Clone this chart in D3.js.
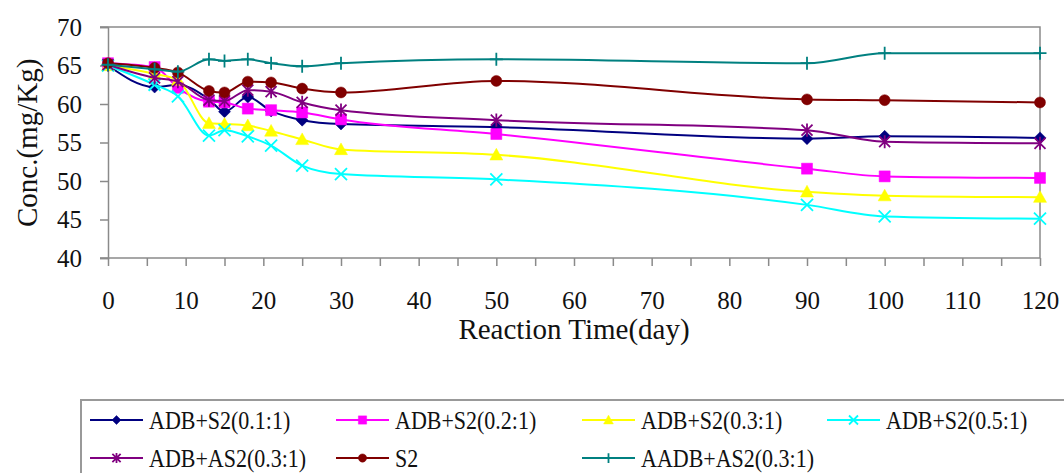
<!DOCTYPE html>
<html>
<head>
<meta charset="utf-8">
<script src="https://cdn.jsdelivr.net/npm/d3@7"></script>
<style>
  body { margin: 0; background: #fff; }
  text { font-family: "Liberation Serif", "Times New Roman", serif; fill: #111; }
</style>
</head>
<body>
<div id="chart"></div>
<script>
// sampling days (x) and the concentration of each run (mg/Kg)
var days = [0, 6, 9, 13, 15, 18, 21, 25, 30, 50, 90, 100, 120];
var adbS2_01  = [65.0, 62.2, 62.5, 60.6, 59.0, 60.9, 59.1, 57.9, 57.4, 57.0, 55.5, 55.8, 55.6];
var adbS2_02  = [65.3, 64.8, 62.1, 60.3, 60.2, 59.4, 59.2, 58.9, 58.0, 56.1, 51.6, 50.6, 50.4];
var adbS2_03  = [65.0, 63.9, 63.1, 57.5, 57.4, 57.2, 56.5, 55.4, 54.1, 53.4, 48.6, 48.1, 47.9];
var adbS2_05  = [65.0, 62.5, 61.0, 55.9, 56.6, 55.8, 54.6, 52.0, 50.9, 50.2, 46.9, 45.4, 45.1];
var adbAS2_03 = [65.1, 63.4, 62.9, 60.5, 60.4, 61.8, 61.6, 60.2, 59.2, 57.9, 56.6, 55.1, 54.9];
var s2        = [65.3, 64.7, 64.1, 61.7, 61.5, 62.9, 62.8, 62.0, 61.5, 63.0, 60.6, 60.5, 60.2];
var aadbAS2   = [65.1, 64.5, 64.2, 65.8, 65.6, 65.8, 65.3, 64.9, 65.3, 65.8, 65.3, 66.6, 66.6];

var seriesNames = ["ADB+S2(0.1:1)", "ADB+S2(0.2:1)", "ADB+S2(0.3:1)", "ADB+S2(0.5:1)",
                   "ADB+AS2(0.3:1)", "S2", "AADB+AS2(0.3:1)"];
var seriesValues = [adbS2_01, adbS2_02, adbS2_03, adbS2_05, adbAS2_03, s2, aadbAS2];

var yTicks = [40, 45, 50, 55, 60, 65, 70];
var xTicks = d3.range(0, 121, 5);

var colors  = ["#000080", "#ff00ff", "#ffff00", "#00ffff", "#800080", "#800000", "#008080"];
var markers = ["diamond", "square", "triangle", "x", "star", "circle", "plus"];

var W = 1064, H = 473;
var svg = d3.select("#chart").append("svg")
    .attr("width", W).attr("height", H);

var x = d3.scaleLinear().domain([0, 120]).range([108, 1040]);
var y = d3.scaleLinear().domain([40, 70]).range([258, 27]);

var axisColor = "#8a8a8a";
var serif = "'Liberation Serif', 'Times New Roman', serif";

// plot frame (top and right)
svg.append("path")
    .attr("d", "M" + (x(0) - 8) + "," + y(70) + "H" + x(120) + "V" + y(40))
    .attr("fill", "none").attr("stroke", axisColor).attr("stroke-width", 1.5);

var yAxis = svg.append("g")
    .attr("transform", "translate(" + x(0) + ",0)")
    .call(d3.axisLeft(y).tickValues(yTicks).tickSize(8).tickPadding(18));
var xAxis = svg.append("g")
    .attr("transform", "translate(0," + y(40) + ")")
    .call(d3.axisBottom(x).tickValues(xTicks).tickSize(8).tickPadding(25)
      .tickFormat(function(d) { return d % 10 === 0 ? d : ""; }));

[xAxis, yAxis].forEach(function(a) {
  a.attr("font-family", null).attr("font-size", null);
  a.select(".domain").attr("stroke", axisColor).attr("stroke-width", 1.5);
  a.selectAll(".tick line").attr("stroke", axisColor).attr("stroke-width", 1.5);
  a.selectAll("text")
    .style("font-family", serif)
    .style("font-size", "25px")
    .style("fill", "#111");
});
// extend the x domain to the left so it meets the 40 tick
xAxis.select(".domain").attr("d", "M" + (x(0) - 8) + ",0H" + x(120));

svg.append("text")
    .attr("x", (x(0) + x(120)) / 2).attr("y", 339)
    .attr("text-anchor", "middle").style("font-size", "29px")
    .text("Reaction Time(day)");

svg.append("text")
    .attr("transform", "translate(37,227) rotate(-90)")
    .style("font-size", "29px")
    .text("Conc.(mg/Kg)");

function markerPath(type, r) {
  switch (type) {
    case "diamond":  return "M0," + (-r) + "L" + r + ",0L0," + r + "L" + (-r) + ",0Z";
    case "square":   return "M" + (-r) + "," + (-r) + "h" + 2 * r + "v" + 2 * r + "h" + (-2 * r) + "Z";
    case "triangle": return "M0," + (-r) + "L" + r + "," + r * 0.8 + "L" + (-r) + "," + r * 0.8 + "Z";
    case "circle":   return "M" + (-r) + ",0A" + r + "," + r + " 0 1,0 " + r + ",0A" + r + "," + r + " 0 1,0 " + (-r) + ",0Z";
    case "x":        return "M" + (-r) + "," + (-r) + "L" + r + "," + r + "M" + r + "," + (-r) + "L" + (-r) + "," + r;
    case "star":     return "M" + (-r) + "," + (-r) + "L" + r + "," + r + "M" + r + "," + (-r) + "L" + (-r) + "," + r +
                            "M0," + (-r * 1.2) + "V" + r * 1.2;
    case "plus":     return "M0," + (-r) + "V" + r + "M" + (-r) + ",0H" + r;
  }
}
function isFilled(type) { return ["diamond", "square", "triangle", "circle"].indexOf(type) >= 0; }

function drawMarker(g, type, color, r) {
  g.append("path")
      .attr("d", markerPath(type, r))
      .attr("fill", isFilled(type) ? color : "none")
      .attr("stroke", color)
      .attr("stroke-width", isFilled(type) ? 0.5 : 1.8);
}

var line = d3.line()
    .x(function(d) { return x(d[0]); })
    .y(function(d) { return y(d[1]); })
    .curve(d3.curveMonotoneX);

var markerR = { diamond: 6, square: 5.5, triangle: 6.5, circle: 5.5, x: 6, star: 5.5, plus: 6.5 };

seriesValues.forEach(function(vals, i) {
  var pts = days.map(function(d, j) { return [d, vals[j]]; });
  var g = svg.append("g");
  g.append("path")
      .attr("d", line(pts))
      .attr("fill", "none")
      .attr("stroke", colors[i])
      .attr("stroke-width", 2);
  pts.forEach(function(p) {
    var m = g.append("g").attr("transform", "translate(" + x(p[0]) + "," + y(p[1]) + ")");
    drawMarker(m, markers[i], colors[i], markerR[markers[i]]);
  });
});

// legend
var legend = svg.append("g");
legend.append("rect")
    .attr("x", 81).attr("y", 400).attr("width", 1040).attr("height", 120)
    .attr("fill", "#fff").attr("stroke", "#999").attr("stroke-width", 2);

var colX = [90, 336, 582, 827];
var rowY = [420, 458];
var legendCol = [0, 1, 2, 3, 0, 1, 2];
seriesNames.forEach(function(name, i) {
  var cx = colX[legendCol[i]];
  var cy = rowY[i < 4 ? 0 : 1];
  var item = legend.append("g").attr("transform", "translate(" + cx + "," + cy + ")");
  item.append("line")
      .attr("x1", 0).attr("x2", 53).attr("y1", 0).attr("y2", 0)
      .attr("stroke", colors[i]).attr("stroke-width", 2);
  var m = item.append("g").attr("transform", "translate(26.5,0)");
  drawMarker(m, markers[i], colors[i], markerR[markers[i]] * 0.75);
  item.append("text")
      .attr("transform", "translate(59,0) scale(0.88,1)")
      .attr("dy", "0.34em")
      .style("font-size", "25px")
      .text(name);
});
</script>
</body>
</html>
